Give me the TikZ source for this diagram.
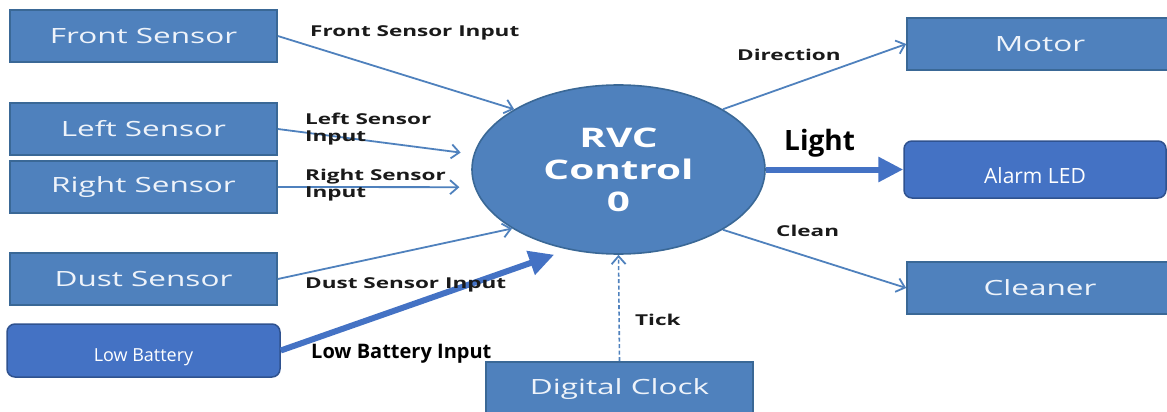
\documentclass[tikz,border=0pt]{standalone}
\usepackage{fontspec}
\usetikzlibrary{shapes.geometric,arrows.meta}
\newfontfamily\wfont[FakeStretch=1.5]{Open Sans}
\newfontfamily\mfont{Open Sans}
\definecolor{boxfill}{HTML}{4F81BD}
\definecolor{boxline}{HTML}{3A6896}
\definecolor{newfill}{HTML}{4472C4}
\definecolor{newline}{HTML}{2F528F}
\definecolor{boxtext}{HTML}{EEF3FA}
\definecolor{arrowc}{HTML}{4F81BD}
\definecolor{labelc}{HTML}{1A1A1A}
\begin{document}
\begin{tikzpicture}[x=1pt,y=-1pt,
  oldbox/.style={draw=boxline,line width=1.6pt,fill=boxfill,text=boxtext,
    minimum width=267pt,minimum height=52pt,inner sep=0pt,
    font=\wfont\fontsize{21}{24}\selectfont},
  newbox/.style={draw=newline,line width=1.5pt,fill=newfill,text=white,
    rounded corners=8pt,inner sep=0pt},
  lbl/.style={text=labelc,font=\wfont\bfseries\fontsize{15}{17}\selectfont,
    inner sep=0pt,anchor=west,align=left},
  thinarrow/.style={draw=arrowc,line width=1.8pt,
    -{Straight Barb[length=8pt,width=14pt,line width=1.8pt]}},
  thickarrow/.style={draw=newfill,line width=6pt,
    -{Triangle[length=25pt,width=24pt]}}]
\useasboundingbox (0,0) rectangle (1167,412);

% sensor boxes
\node[oldbox] (front) at (143.5,36) {Front Sensor};
\node[oldbox] (left)  at (143.5,129) {Left Sensor};
\node[oldbox] (right) at (143.5,187) {Right Sensor};
\node[oldbox] (dust)  at (143.5,279) {Dust Sensor};
\node[newbox,minimum width=273pt,minimum height=53pt,
  font=\mfont\fontsize{18}{20}\selectfont] (batt) at (143.5,350.5)
  {\raisebox{-11pt}[0pt][0pt]{Low Battery}};

% control ellipse
\node[ellipse,draw=boxline,line width=1.6pt,fill=boxfill,text=white,
  minimum width=293pt,minimum height=169pt,inner sep=0pt,align=center,
  font=\wfont\bfseries\fontsize{27}{32}\selectfont] (ctrl) at (618.5,169.5)
  {RVC\\Control\\0};

% clock
\node[oldbox,minimum width=267pt,minimum height=54pt] (clock) at (619.5,389) {Digital Clock};

% outputs
\node[oldbox,minimum width=266pt] (motor) at (1040,44) {Motor};
\node[newbox,minimum width=262pt,minimum height=57pt,
  font=\mfont\fontsize{21}{24}\selectfont] (alarm) at (1035,169.5)
  {\raisebox{-14pt}[0pt][0pt]{Alarm LED}};
\node[oldbox,minimum width=266pt] (cleaner) at (1040,288) {Cleaner};

% input connectors
\draw[thinarrow] (front.east) -- (ctrl.150);
\draw[thinarrow,shorten >=13pt] (left.east) -- (ctrl.174);
\draw[thinarrow,shorten >=15pt] (right.east) -- (ctrl.187);
\draw[thinarrow] (dust.east) -- (ctrl.209);
\draw[thickarrow,shorten >=15pt] (batt.east) -- (ctrl.238);
\draw[thinarrow,dashed,dash pattern=on 4pt off 2.5pt,line width=1.6pt] (clock.north) -- (ctrl.south);

% output connectors
\draw[thinarrow] (ctrl.30) -- (motor.west);
\draw[thickarrow] (ctrl.east) -- (alarm.west);
\draw[thinarrow] (ctrl.-30) -- (cleaner.west);

% labels
\node[lbl] (lfront) at (310,33) {Front Sensor Input};
\node[lbl] (lleft) at (305,129) {Left Sensor\\Input};
\node[lbl] (lright) at (305,185) {Right Sensor\\Input};
\node[lbl] (ldust) at (305,285) {Dust Sensor Input};
\node[lbl] (ltick) at (635,320) {Tick};
\node[lbl] (ldir) at (737,55) {Direction};
\node[lbl] (lclean) at (776,231) {Clean};
\node[text=black,font=\mfont\bfseries\fontsize{20}{24}\selectfont,inner sep=0pt,anchor=west]
  (lbatt) at (311,354) {Low Battery Input};
\node[text=black,font=\mfont\bfseries\fontsize{28}{32}\selectfont,inner sep=0pt,anchor=west]
  (llight) at (784,143) {Light};
\end{tikzpicture}
\end{document}
